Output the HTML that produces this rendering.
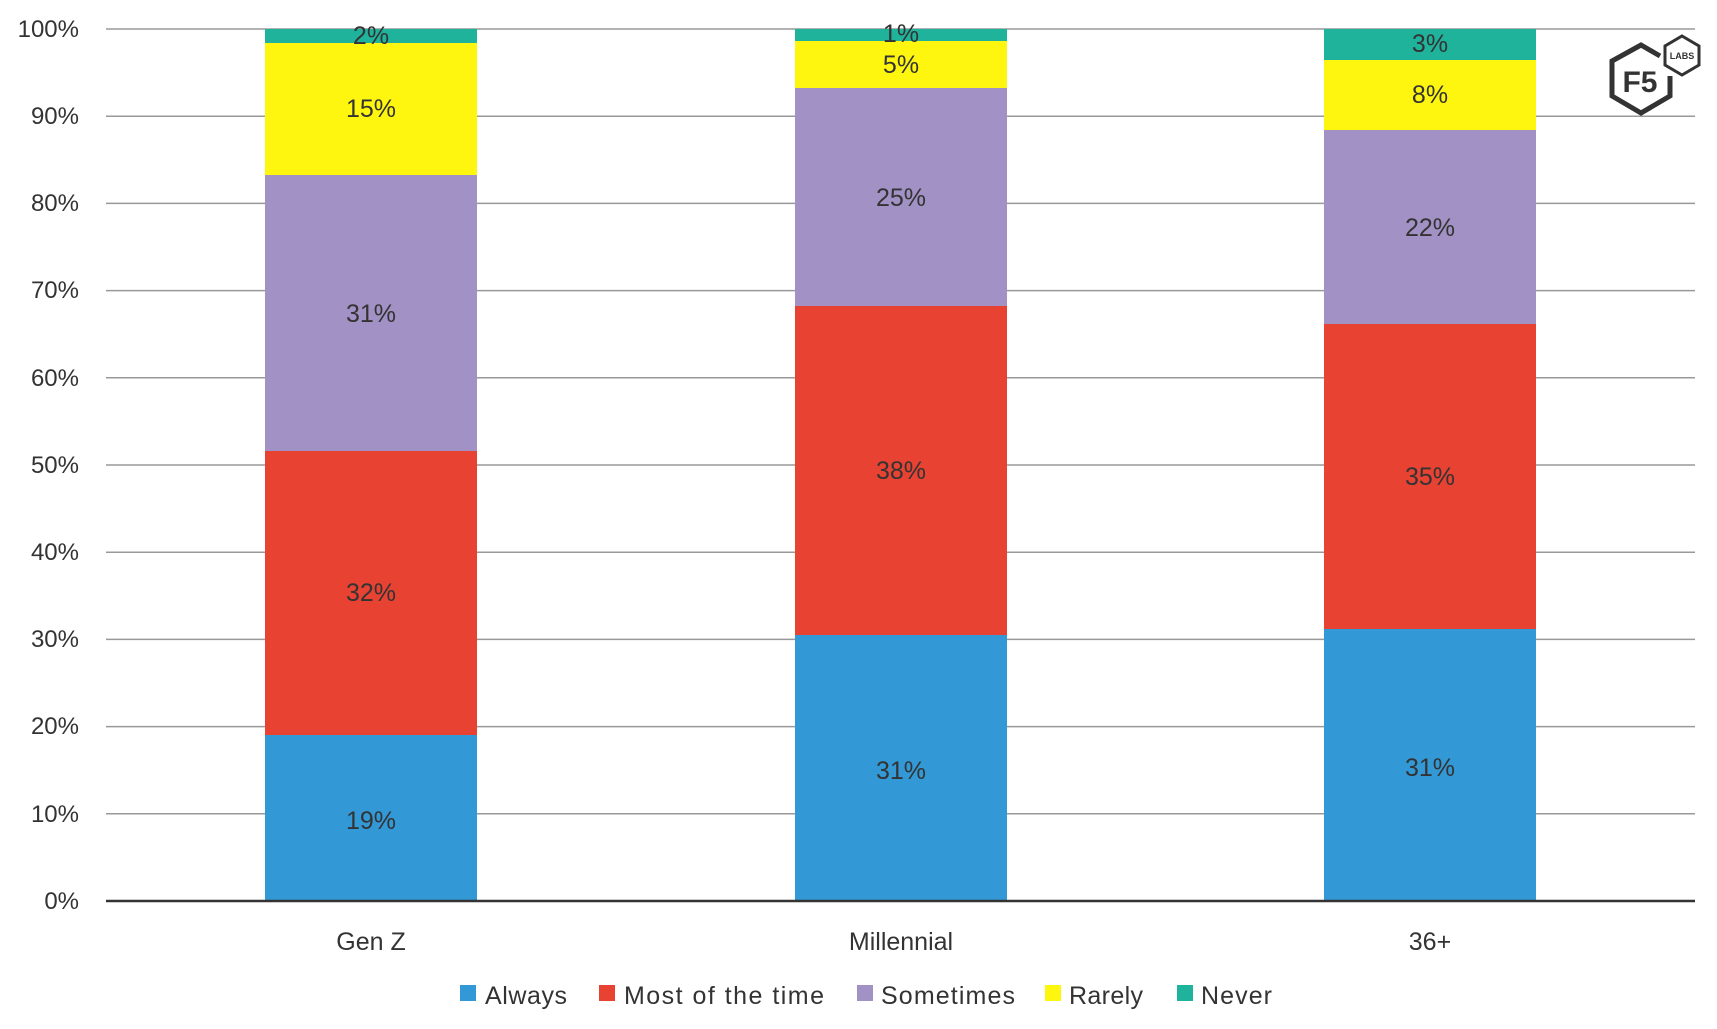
<!DOCTYPE html>
<html><head><meta charset="utf-8"><style>
html,body{margin:0;padding:0;background:#fff;}
svg{display:block;font-family:"Liberation Sans",sans-serif;fill:#333;}
</style></head><body>
<svg width="1717" height="1029" viewBox="0 0 1717 1029" xmlns="http://www.w3.org/2000/svg">
<g stroke="#999" stroke-width="1.5">
<line x1="106" x2="1695" y1="29" y2="29"/>
<line x1="106" x2="1695" y1="116.2" y2="116.2"/>
<line x1="106" x2="1695" y1="203.4" y2="203.4"/>
<line x1="106" x2="1695" y1="290.6" y2="290.6"/>
<line x1="106" x2="1695" y1="377.8" y2="377.8"/>
<line x1="106" x2="1695" y1="465" y2="465"/>
<line x1="106" x2="1695" y1="552.2" y2="552.2"/>
<line x1="106" x2="1695" y1="639.4" y2="639.4"/>
<line x1="106" x2="1695" y1="726.6" y2="726.6"/>
<line x1="106" x2="1695" y1="813.8" y2="813.8"/>
</g>
<g font-size="24" text-anchor="end">
<text x="79" y="37">100%</text><text x="79" y="124">90%</text><text x="79" y="211">80%</text><text x="79" y="298">70%</text><text x="79" y="386">60%</text><text x="79" y="473">50%</text><text x="79" y="560">40%</text><text x="79" y="647">30%</text><text x="79" y="734">20%</text><text x="79" y="822">10%</text><text x="79" y="909">0%</text>
</g>
<rect x="265" y="735" width="212" height="166" fill="#3399d6"/>
<rect x="265" y="451" width="212" height="284" fill="#e84233"/>
<rect x="265" y="175" width="212" height="276" fill="#a291c4"/>
<rect x="265" y="43" width="212" height="132" fill="#fff60f"/>
<rect x="265" y="29" width="212" height="14" fill="#20b39c"/>
<rect x="795" y="635" width="212" height="266" fill="#3399d6"/>
<rect x="795" y="306" width="212" height="329" fill="#e84233"/>
<rect x="795" y="88" width="212" height="218" fill="#a291c4"/>
<rect x="795" y="41" width="212" height="47" fill="#fff60f"/>
<rect x="795" y="29" width="212" height="12" fill="#20b39c"/>
<rect x="1324" y="629" width="212" height="272" fill="#3399d6"/>
<rect x="1324" y="324" width="212" height="305" fill="#e84233"/>
<rect x="1324" y="130" width="212" height="194" fill="#a291c4"/>
<rect x="1324" y="60" width="212" height="70" fill="#fff60f"/>
<rect x="1324" y="29" width="212" height="31" fill="#20b39c"/>
<line x1="106" x2="1695" y1="901" y2="901" stroke="#333" stroke-width="2.5"/>
<g font-size="25" text-anchor="middle">
<text x="371" y="829">19%</text><text x="371" y="601">32%</text><text x="371" y="322">31%</text><text x="371" y="117">15%</text><text x="371" y="44">2%</text>
<text x="901" y="779">31%</text><text x="901" y="479">38%</text><text x="901" y="206">25%</text><text x="901" y="73">5%</text><text x="901" y="42">1%</text>
<text x="1430" y="776">31%</text><text x="1430" y="485">35%</text><text x="1430" y="236">22%</text><text x="1430" y="103">8%</text><text x="1430" y="52">3%</text>
<text x="371" y="950">Gen Z</text><text x="901" y="950">Millennial</text><text x="1430" y="950">36+</text>
</g>
<g font-size="25">
<rect x="460" y="985" width="16" height="16" fill="#3399d6"/><text x="485" y="1004" textLength="82">Always</text>
<rect x="599" y="985" width="16" height="16" fill="#e84233"/><text x="624" y="1004" textLength="200">Most of the time</text>
<rect x="857" y="985" width="16" height="16" fill="#a291c4"/><text x="881" y="1004" textLength="134">Sometimes</text>
<rect x="1045" y="985" width="16" height="16" fill="#fff60f"/><text x="1069" y="1004" textLength="74">Rarely</text>
<rect x="1177" y="985" width="16" height="16" fill="#20b39c"/><text x="1201" y="1004" textLength="71">Never</text>
</g>
<g fill="none" stroke="#333" stroke-width="5" stroke-linejoin="miter">
<polyline points="1660,56 1641,45 1612,61 1612,96 1641,113 1670,96 1670,76"/>
<polygon points="1682,36 1699,46 1699,65 1682,75 1665,65 1665,46" stroke-width="3"/>
</g>
<text x="1640" y="92" font-size="30" font-weight="bold" text-anchor="middle" fill="#333">F5</text>
<text x="1682" y="59" font-size="9" font-weight="bold" text-anchor="middle" fill="#333">LABS</text>
</svg>
</body></html>
